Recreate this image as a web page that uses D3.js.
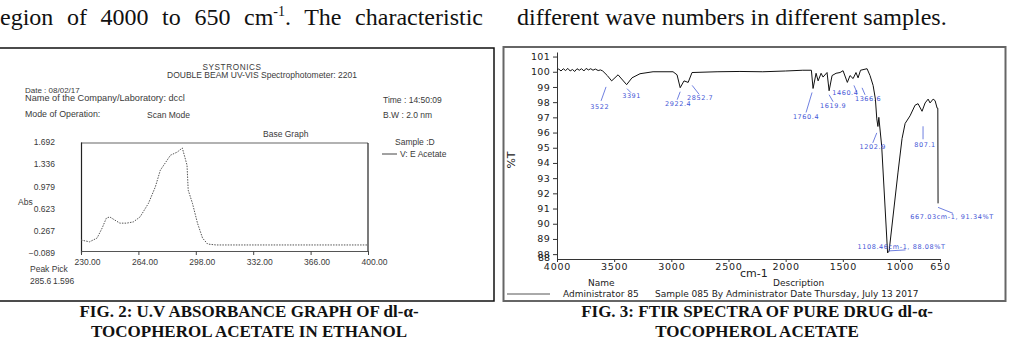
<!DOCTYPE html>
<html>
<head>
<meta charset="utf-8">
<script src="https://cdn.jsdelivr.net/npm/d3@7"></script>
<style>
    html, body { margin: 0; padding: 0; background: #fff; }
    svg { display: block; }
</style>
</head>
<body>
<svg id="page" width="1012" height="356"></svg>
<script>
// ---- data ----

// UV scan (Fig. 2)
const uvWavelength = [230, 235, 239.5, 242.5, 245, 247, 250, 253, 257, 261, 265, 270, 274, 277, 279, 283, 287, 290, 291.5, 292.8, 293.5, 296, 299, 302, 305, 310, 320, 340, 360, 380, 400];
const uvAbsorbance = [0.12, 0.09, 0.15, 0.31, 0.47, 0.49, 0.44, 0.39, 0.39, 0.41, 0.49, 0.71, 0.97, 1.24, 1.32, 1.48, 1.53, 1.596, 1.45, 1.32, 0.92, 0.71, 0.39, 0.15, 0.055, 0.04, 0.04, 0.04, 0.04, 0.04, 0.04];
const uvTicksX = [230, 264, 298, 332, 366, 400];
const uvTicksY = [-0.089, 0.267, 0.623, 0.979, 1.336, 1.692];
const uvPeakPick = ["285.6", "1.596"];

// FTIR spectrum (Fig. 3)
const irWavenumber = [4000, 3985, 3965, 3945, 3925, 3905, 3885, 3865, 3845, 3825, 3805, 3785, 3765, 3745, 3725, 3705, 3685, 3665, 3640, 3620, 3600, 3560, 3522, 3466, 3391, 3344, 3274, 3160, 2985, 2950, 2922.4, 2889, 2852.7, 2819, 2600, 2400, 2200, 2000, 1850, 1775, 1760.4, 1734, 1716, 1690, 1673, 1638, 1619.9, 1594, 1559, 1524, 1498, 1460.4, 1437, 1410, 1385, 1366.6, 1345, 1288, 1262, 1235, 1215, 1202.9, 1193, 1185, 1160, 1108.46, 1095, 1017, 982, 955, 912, 868, 842, 807.1, 780, 754, 737, 710, 693, 675, 669, 667.03];
const irTransmittance = [100.1, 100.18, 100.05, 100.2, 100.08, 100.22, 100.05, 100.15, 100.02, 100.2, 100.1, 100.2, 100.05, 100.22, 100.12, 100.2, 100.1, 100.18, 100.08, 100.12, 100.05, 99.75, 99.4, 99.8, 99.15, 99.6, 99.87, 100.0, 100.0, 99.8, 98.95, 99.4, 99.3, 99.95, 100.0, 100.02, 100.0, 100.05, 100.1, 100.1, 98.9, 99.9, 99.4, 99.9, 99.65, 99.95, 98.75, 99.75, 99.9, 99.95, 100.07, 99.3, 99.75, 99.55, 99.95, 99.6, 100.1, 100.2, 99.75, 99.1, 98.2, 96.9, 96.4, 97.0, 95.1, 88.08, 88.2, 93.4, 95.6, 96.6, 97.1, 97.8, 97.9, 97.4, 97.95, 98.2, 97.95, 98.2, 98.1, 97.6, 97.6, 91.34];
const irTicksX = [4000, 3500, 3000, 2500, 2000, 1500, 1000, 650];
const irTicksY = [88, 89, 90, 91, 92, 93, 94, 95, 96, 97, 98, 99, 100, 101];

const irPeakNames = ["3522", "3391", "2922.4", "2852.7", "1760.4", "1619.9", "1460.4", "1366.6", "1202.9", "807.1", "1108.46cm-1, 88.08%T", "667.03cm-1, 91.34%T"];
const irPeakWavenumber = [3522, 3391, 2922.4, 2852.7, 1760.4, 1619.9, 1460.4, 1366.6, 1202.9, 807.1, 1108.46, 667.03];
const irPeakTransmittance = [99.4, 99.15, 98.95, 99.3, 98.9, 98.75, 99.3, 99.6, 96.9, 97.4, 88.08, 91.34];

// ---- layout ----

// label offset from the peak, and leader line [x1, y1, x2, y2] relative to the peak
const peakLabelOffsets = [[-12, 26], [5, 11], [-2, 16], [12, 15], [-7, 28], [4, 15], [-2, 10], [10, 21], [-4, 28], [3, 33], [14, -6], [14, 13]];
const peakLeaders = [[-5.6, 6, -10.6, 20], [0.4, 4, 4.4, 8], [0, 4, -3, 12], [4, 3, 11, 12], [-1, 4, -7, 24], [0, 4, 4, 11], [6.6, 3, 9.6, 10], [4, 10, 7, 17], [0, 14, -4, 24], [1, 15, 1, 28], [1, -2, 18, -3], [0, 4, 15, 10]];

const serif = "'Liberation Serif', 'Times New Roman', serif";
const sans = "'Liberation Sans', Arial, sans-serif";
const wide = "'DejaVu Sans', Verdana, sans-serif";

const svg = d3.select("#page");
svg.append("rect").attr("width", 1012).attr("height", 356).attr("fill", "#fff");

drawBodyText();
drawUvPanel();
drawIrPanel();
drawCaptions();

// stretch the gaps of a text so that it fills the given width
function justify(text, width, gaps) {
    const natural = text.node().getComputedTextLength();
    text.attr("word-spacing", Math.max(0, (width - natural) / gaps));
}

function drawBodyText() {
    const line1 = svg
        .append("text")
        .attr("x", 0)
        .attr("y", 25)
        .attr("font-family", serif)
        .attr("font-size", 24)
        .attr("fill", "#111");
    line1.append("tspan").text("egion of 4000 to 650 cm");
    line1.append("tspan").attr("font-size", 14).attr("dy", -9).text("-1");
    line1.append("tspan").attr("dy", 9).text(". The characteristic");
    justify(line1, 483, 7);

    svg.append("text")
        .attr("x", 517)
        .attr("y", 25)
        .attr("font-family", serif)
        .attr("font-size", 24)
        .attr("fill", "#111")
        .text("different wave numbers in different samples.");
}

function drawUvPanel() {
    const g = svg.append("g").attr("class", "uv");

    g.append("rect")
        .attr("x", -2)
        .attr("y", 48)
        .attr("width", 496)
        .attr("height", 253)
        .attr("fill", "none")
        .attr("stroke", "#111")
        .attr("stroke-width", 1.5);

    const txt = (x, y, s, size = 8.5, anchor = "start") =>
        g.append("text")
            .attr("x", x)
            .attr("y", y)
            .attr("font-family", sans)
            .attr("font-size", size)
            .attr("text-anchor", anchor)
            .attr("fill", "#3a3a3a")
            .text(s);

    txt(232, 70, "SYSTRONICS", 8.2, "middle").attr("letter-spacing", 0.6);
    txt(167, 78, "DOUBLE BEAM UV-VIS Spectrophotometer: 2201", 8.5);
    txt(25, 93, "Date : 08/02/17", 8);
    txt(25, 101, "Name of the Company/Laboratory: dccl", 9.2);
    txt(25, 117, "Mode of Operation:", 8.8);
    txt(147, 118, "Scan Mode", 8.5);
    txt(383, 103, "Time : 14:50:09");
    txt(383, 118, "B.W : 2.0 nm");
    txt(263, 137, "Base Graph");
    txt(395, 145, "Sample :D");
    txt(400, 157, "V: E Acetate");
    g.append("line").attr("x1", 382).attr("x2", 397).attr("y1", 154).attr("y2", 154).attr("stroke", "#444");
    txt(18, 205, "Abs");
    txt(30, 272, "Peak Pick");
    txt(30, 284, uvPeakPick[0]);
    txt(53, 284, uvPeakPick[1]);

    const x = d3.scaleLinear().domain([230, 400]).range([81, 368]);
    const y = d3.scaleLinear().domain([-0.089, 1.692]).range([253, 142]);

    // plot frame
    g.append("line").attr("x1", x(230)).attr("x2", x(400)).attr("y1", 143).attr("y2", 143).attr("stroke", "#666").attr("stroke-width", 1.2);
    g.append("line").attr("x1", x(400)).attr("x2", x(400)).attr("y1", 143).attr("y2", 251).attr("stroke", "#222").attr("stroke-width", 1.2);

    const yAxis = d3.axisLeft(y).tickValues(uvTicksY).tickFormat(d3.format(".3f")).tickSize(0).tickPadding(26);
    g.append("g")
        .attr("transform", `translate(${x(230)},0)`)
        .call(yAxis)
        .call((a) => a.select(".domain").attr("stroke", "#222").attr("stroke-width", 1.2))
        .call((a) => a.selectAll("text").attr("font-family", sans).attr("font-size", 8.5).attr("fill", "#3a3a3a"));

    const xAxis = d3.axisBottom(x).tickValues(uvTicksX).tickFormat(d3.format(".2f")).tickSize(4).tickSizeOuter(0).tickPadding(4);
    g.append("g")
        .attr("transform", "translate(0,251)")
        .call(xAxis)
        .call((a) => a.select(".domain").attr("stroke", "#555").attr("stroke-width", 1.2))
        .call((a) => a.selectAll("line").attr("stroke", "#444"))
        .call((a) => a.selectAll("text").attr("dx", 6).attr("font-family", sans).attr("font-size", 8.5).attr("fill", "#3a3a3a"));

    const line = d3
        .line()
        .x((d, i) => x(uvWavelength[i]))
        .y((d) => y(d));

    g.append("path")
        .datum(uvAbsorbance)
        .attr("fill", "none")
        .attr("stroke", "#555")
        .attr("stroke-width", 1)
        .attr("stroke-dasharray", "1.5,1.2")
        .attr("d", line);
}

function drawIrPanel() {
    const g = svg.append("g").attr("class", "ir");

    g.append("rect")
        .attr("x", 503.5)
        .attr("y", 47)
        .attr("width", 502)
        .attr("height", 254)
        .attr("fill", "none")
        .attr("stroke", "#666")
        .attr("stroke-width", 2);

    const x = d3.scaleLinear().domain([4000, 650]).range([557, 940]);
    const y = d3.scaleLinear().domain([87.68, 101.3]).range([259, 52]);

    const yAxis = d3.axisLeft(y).tickValues(irTicksY).tickFormat(d3.format("d")).tickSize(4).tickSizeOuter(0).tickPadding(3);
    g.append("g")
        .attr("transform", `translate(${x(4000)},0)`)
        .call(yAxis)
        .call((a) => a.selectAll("path, line").attr("stroke", "#333"))
        .call((a) => a.selectAll("text").attr("font-family", wide).attr("font-size", 9.5).attr("letter-spacing", 0.3).attr("fill", "#222"));

    // the bottom end of the %T axis carries its own label
    g.append("text")
        .attr("x", 550)
        .attr("y", y(87.68) + 2)
        .attr("text-anchor", "end")
        .attr("font-family", wide)
        .attr("font-size", 9.5)
        .attr("fill", "#222")
        .text("88");

    const xAxis = d3.axisBottom(x).tickValues(irTicksX).tickFormat(d3.format("d")).tickSize(3).tickSizeOuter(0).tickPadding(1);
    g.append("g")
        .attr("transform", `translate(0,${y(87.68)})`)
        .call(xAxis)
        .call((a) => a.selectAll("path, line").attr("stroke", "#333"))
        .call((a) => a.selectAll("text").attr("font-family", wide).attr("font-size", 9.5).attr("letter-spacing", 0.8).attr("fill", "#222"));

    const label = (xx, yy, s, size, anchor = "start") =>
        g.append("text")
            .attr("x", xx)
            .attr("y", yy)
            .attr("font-family", wide)
            .attr("font-size", size)
            .attr("text-anchor", anchor)
            .attr("fill", "#222")
            .text(s);

    label(740, 277, "cm-1", 11);
    label(588, 286, "Name", 9);
    label(773, 286, "Description", 9);
    label(563, 297, "Administrator 85", 9);
    label(655, 297, "Sample 085 By Administrator Date Thursday, July 13 2017", 9);
    g.append("line").attr("x1", 507).attr("x2", 550).attr("y1", 294).attr("y2", 294).attr("stroke", "#555");

    g.append("text")
        .attr("transform", "translate(515,160) rotate(-90)")
        .attr("text-anchor", "middle")
        .attr("font-family", wide)
        .attr("font-size", 11)
        .attr("fill", "#222")
        .text("%T");

    const line = d3
        .line()
        .x((d, i) => x(irWavenumber[i]))
        .y((d) => y(d));

    g.append("path")
        .datum(irTransmittance)
        .attr("fill", "none")
        .attr("stroke", "#111")
        .attr("stroke-width", 1)
        .attr("d", line);

    const peaks = g.append("g").attr("class", "peaks");
    irPeakNames.forEach((name, i) => {
        const px = x(irPeakWavenumber[i]);
        const py = y(irPeakTransmittance[i]);
        const [x1, y1, x2, y2] = peakLeaders[i];
        const [dx, dy] = peakLabelOffsets[i];

        peaks.append("line")
            .attr("x1", px + x1)
            .attr("y1", py + y1)
            .attr("x2", px + x2)
            .attr("y2", py + y2)
            .attr("stroke", "#4a5fd8")
            .attr("stroke-width", 0.8);

        peaks.append("text")
            .attr("x", px + dx)
            .attr("y", py + dy)
            .attr("dy", "0.35em")
            .attr("text-anchor", "middle")
            .attr("font-family", wide)
            .attr("font-size", 6.5)
            .attr("letter-spacing", 0.6)
            .attr("fill", "#3f55d6")
            .text(name);
    });
}

function drawCaptions() {
    const caption = (cx, lines) =>
        lines.forEach((s, i) =>
            svg.append("text")
                .attr("x", cx)
                .attr("y", 317 + i * 20)
                .attr("text-anchor", "middle")
                .attr("font-family", serif)
                .attr("font-weight", "bold")
                .attr("font-size", 17)
                .attr("fill", "#111")
                .text(s)
        );

    caption(249, ["FIG. 2: U.V ABSORBANCE GRAPH OF dl-α-", "TOCOPHEROL ACETATE IN ETHANOL"]);
    caption(757, ["FIG. 3: FTIR SPECTRA OF PURE DRUG dl-α-", "TOCOPHEROL ACETATE"]);
}
</script>
</body>
</html>
